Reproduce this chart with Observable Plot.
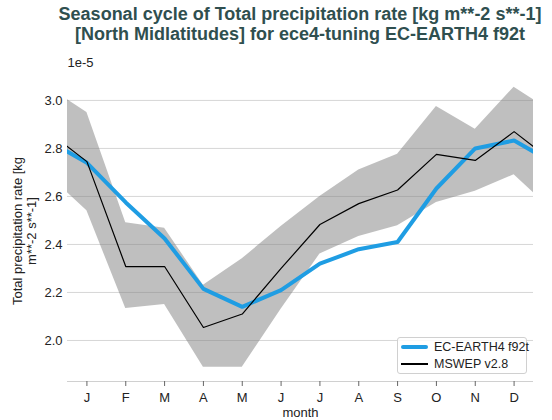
<!DOCTYPE html>
<html>
<head>
<meta charset="utf-8">
<script src="https://cdn.jsdelivr.net/npm/d3@7"></script>
<script src="https://cdn.jsdelivr.net/npm/@observablehq/plot@0.6"></script>
<style>
  body { margin: 0; background: #fff; font-family: "Liberation Sans", Arial, sans-serif; }
  #wrap { position: relative; width: 552px; height: 420px; overflow: hidden; }
  #title { height: 50px; box-sizing: border-box; padding: 4px 0 0 48px; text-align: center;
           font-weight: bold; font-size: 18px; line-height: 20px; color: #2f4f4f; white-space: nowrap; }
  #legend { position: absolute; left: 397px; top: 337px; width: 128px; height: 35px;
            border: 1px solid #d0d0d0; border-radius: 3px; background: rgba(255,255,255,0.85);
            font-size: 12.5px; color: #222; }
  .entry { position: absolute; left: 0; height: 18px; width: 128px; }
  .sw { position: absolute; left: 3px; width: 27px; top: 50%; }
  .lab { position: absolute; left: 36px; top: 50%; transform: translateY(-50%); white-space: nowrap; }
</style>
</head>
<body>
<div id="wrap">
  <div id="title">Seasonal cycle of Total precipitation rate [kg m**-2 s**-1]<br>[North Midlatitudes] for ece4-tuning EC-EARTH4 f92t</div>
  <div id="chart"></div>
  <div id="legend">
    <div class="entry" style="top:0px"><div class="sw" style="height:4px;margin-top:-2px;background:#1f9de3;border-radius:2px"></div><div class="lab">EC-EARTH4 f92t</div></div>
    <div class="entry" style="top:17px"><div class="sw" style="height:1.3px;margin-top:-0.6px;background:#000"></div><div class="lab">MSWEP v2.8</div></div>
  </div>
</div>
<script>
const months = [1,2,3,4,5,6,7,8,9,10,11,12];
const monthLabels = ["J","F","M","A","M","J","J","A","S","O","N","D"];
// values in units of 1e-5 kg m**-2 s**-1
const model   = [2.74, 2.575, 2.425, 2.215, 2.14, 2.21, 2.32, 2.38, 2.41, 2.633, 2.80, 2.833];
const obs     = [2.745, 2.308, 2.308, 2.054, 2.11, 2.30, 2.483, 2.57, 2.627, 2.775, 2.75, 2.87];
const obsLow  = [2.54, 2.133, 2.15, 1.888, 1.888, 2.13, 2.36, 2.433, 2.478, 2.575, 2.622, 2.69];
const obsHigh = [2.95, 2.49, 2.467, 2.23, 2.34, 2.475, 2.60, 2.71, 2.776, 2.975, 2.88, 3.055];
const yTicks = [2.0, 2.2, 2.4, 2.6, 2.8, 3.0];

// cyclic table: December repeated before January, January after December
const idx = [11, ...d3.range(12), 0];
const rows = idx.map((i, k) => ({
  m: k === 0 ? 0 : (k === 13 ? 13 : months[i]),
  model: model[i], obs: obs[i], lo: obsLow[i], hi: obsHigh[i]
}));

const chart = Plot.plot({
  width: 552, height: 370,
  marginTop: 30, marginBottom: 39, marginLeft: 67, marginRight: 19,
  style: { fontFamily: "Liberation Sans, Arial, sans-serif", fontSize: "13px", color: "#222", background: "#fff", overflow: "visible" },
  x: { domain: [0.5, 12.5] },
  y: { domain: [1.829, 3.083] },
  marks: [
    Plot.gridY(yTicks, { stroke: "#d6d6d6", strokeOpacity: 1, strokeWidth: 1 }),
    Plot.areaY(rows, { x: "m", y1: "lo", y2: "hi", fill: "gray", fillOpacity: 0.5, clip: true }),
    Plot.line(rows, { x: "m", y: "model", stroke: "#1f9de3", strokeWidth: 4, clip: true }),
    Plot.line(rows, { x: "m", y: "obs", stroke: "#000", strokeWidth: 1.2, clip: true }),
    Plot.ruleY([1.829], { stroke: "#d0d0d0", strokeWidth: 1.2 }),
    Plot.axisX({ ticks: months, tickFormat: d => monthLabels[d - 1], tickSize: 5, tickPadding: 6,
                 stroke: "#666", fontSize: 13, label: null }),
    Plot.axisY({ ticks: yTicks, tickFormat: d3.format(".1f"), tickSize: 0, tickPadding: 5,
                 fontSize: 13, label: null }),
    Plot.text(["1e-5"], { frameAnchor: "top-left", lineAnchor: "middle", textAnchor: "start", dy: -18, fontSize: 13 }),
    Plot.text(["month"], { frameAnchor: "bottom", lineAnchor: "middle", dy: 31, fontSize: 13 }),
    Plot.text(["Total precipitation rate [kg\nm**-2 s**-1]"], { frameAnchor: "left", rotate: -90, lineAnchor: "middle",
                 textAnchor: "middle", dx: -43, fontSize: 13, lineHeight: 1.08 })
  ]
});
document.getElementById("chart").appendChild(chart);
</script>
</body>
</html>
